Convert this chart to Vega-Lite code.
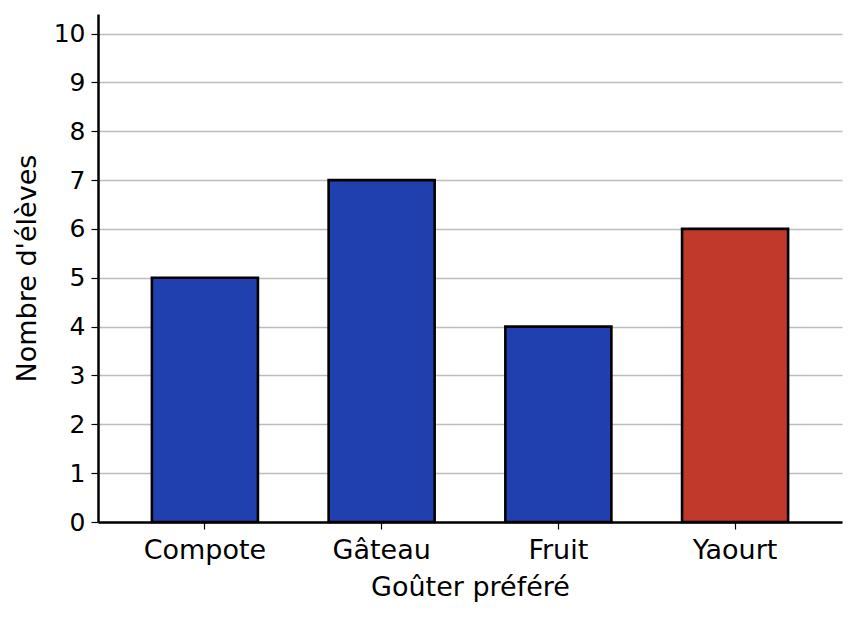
{
  "$schema": "https://vega.github.io/schema/vega-lite/v6.json",
  "width": 744,
  "height": 508,
  "autosize": {"type": "none"},
  "padding": {"left": 98, "top": 14, "right": 15, "bottom": 96},
  "background": "white",
  "config": {
    "view": {"stroke": null},
    "font": "DejaVu Sans"
  },
  "data": {
    "values": [
      {"gouter": "Compote", "eleves": 5, "highlight": "non"},
      {"gouter": "Gâteau", "eleves": 7, "highlight": "non"},
      {"gouter": "Fruit", "eleves": 4, "highlight": "non"},
      {"gouter": "Yaourt", "eleves": 6, "highlight": "oui"}
    ]
  },
  "mark": {"type": "bar", "stroke": "black", "strokeWidth": 2.6},
  "encoding": {
    "x": {
      "field": "gouter",
      "type": "nominal",
      "sort": null,
      "title": "Goûter préféré",
      "scale": {"paddingInner": 0.4, "paddingOuter": 0.305},
      "axis": {
        "labelAngle": 0,
        "labelFont": "DejaVu Sans",
        "labelFontSize": 27,
        "labelColor": "black",
        "labelPadding": 8,
        "titleFont": "DejaVu Sans",
        "titleFontSize": 27,
        "titleFontWeight": "normal",
        "titleColor": "black",
        "titlePadding": 11,
        "domainColor": "black",
        "domainWidth": 2.5,
        "tickColor": "black",
        "tickWidth": 1.2,
        "tickSize": 7,
        "grid": false
      }
    },
    "y": {
      "field": "eleves",
      "type": "quantitative",
      "title": "Nombre d'élèves",
      "scale": {"domain": [0, 10.4], "nice": false},
      "axis": {
        "values": [0, 1, 2, 3, 4, 5, 6, 7, 8, 9, 10],
        "labelFont": "DejaVu Sans",
        "labelFontSize": 25,
        "labelColor": "black",
        "labelPadding": 6,
        "titleFont": "DejaVu Sans",
        "titleFontSize": 27,
        "titleFontWeight": "normal",
        "titleColor": "black",
        "titlePadding": 12,
        "domainColor": "black",
        "domainWidth": 2.5,
        "tickColor": "black",
        "tickWidth": 1.2,
        "tickSize": 7,
        "grid": true,
        "gridColor": "#bdbdbd",
        "gridWidth": 1.3
      }
    },
    "color": {
      "field": "highlight",
      "type": "nominal",
      "scale": {"domain": ["non", "oui"], "range": ["#1f40ae", "#c0392b"]},
      "legend": null
    }
  }
}
